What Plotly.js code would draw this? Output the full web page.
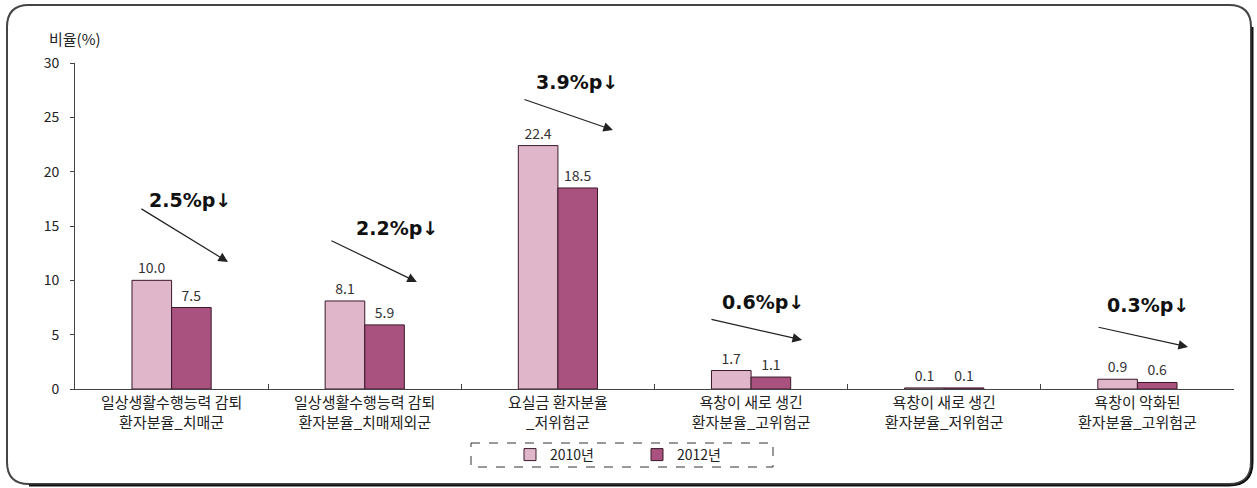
<!DOCTYPE html>
<html><head><meta charset="utf-8">
<script src="https://cdn.plot.ly/plotly-3.0.1.min.js"></script>
<style>html,body{margin:0;padding:0;background:#fff}#c{width:1257px;height:488px}</style>
</head><body><div id="c"></div>
<script>
const categories = [
  '일상생활수행능력 감퇴<br>환자분율_치매군',
  '일상생활수행능력 감퇴<br>환자분율_치매제외군',
  '요실금 환자분율<br>_저위험군',
  '욕창이 새로 생긴<br>환자분율_고위험군',
  '욕창이 새로 생긴<br>환자분율_저위험군',
  '욕창이 악화된<br>환자분율_고위험군'
];
const values2010 = [10.0, 8.1, 22.4, 1.7, 0.1, 0.9];
const values2012 = [7.5, 5.9, 18.5, 1.1, 0.1, 0.6];
const seriesNames = ['2010년', '2012년'];
const changeLabels = ['2.5%p↓', '2.2%p↓', '3.9%p↓', '0.6%p↓', null, '0.3%p↓'];

const W = 1257, H = 488;
const L = 75, R = 23, T = 63, B = 99;
const pw = W - L - R, ph = H - T - B;
const px = x => (x - L) / pw;
const py = y => (H - B - y) / ph;

const font = '"Noto Sans CJK KR", "Noto Sans", sans-serif';

const traces = [
  {type:'bar', name: seriesNames[0], x: categories, y: values2010,
   marker:{color:'#E0B6CA', line:{color:'#3a1a2a', width:1}},
   texttemplate:'%{y:.1f}', textposition:'outside', cliponaxis:false,
   textfont:{size:14, color:'#333', family:font}},
  {type:'bar', name: seriesNames[1], x: categories, y: values2012,
   marker:{color:'#A9527F', line:{color:'#3a1a2a', width:1}},
   texttemplate:'%{y:.1f}', textposition:'outside', cliponaxis:false,
   textfont:{size:14, color:'#333', family:font}}
];

// arrow geometry (category index, value) : tail, head, text position
const arrows = [
  {t:[-0.164,16.66], h:[0.292,11.69], s:[0.095,17.39]},
  {t:[0.820,13.71], h:[1.270,9.85], s:[1.167,14.82]},
  {t:[1.819,26.69], h:[2.285,23.83], s:[2.099,28.25]},
  {t:[2.787,6.44], h:[3.264,4.51], s:[3.062,8.01]},
  null,
  {t:[4.791,5.71], h:[5.262,3.87], s:[5.055,7.73]}
];
const annotations = [
  {xref:'paper', yref:'paper', x:px(75), y:py(38), text:'비율(%)', showarrow:false,
   font:{size:15, color:'#222', family:font}, xanchor:'center', yanchor:'middle'}
];
arrows.forEach((a, i) => {
  if (!a) return;
  annotations.push({xref:'x', yref:'y', axref:'x', ayref:'y', x:a.h[0], y:a.h[1], ax:a.t[0], ay:a.t[1],
    text:'', showarrow:true, arrowhead:2, arrowsize:1.6, arrowwidth:1.2, arrowcolor:'#222', standoff:0});
  annotations.push({xref:'x', yref:'y', x:a.s[0], y:a.s[1], text:'<b>' + changeLabels[i] + '</b>',
    showarrow:false, font:{size:19, color:'#111', family:'"DejaVu Sans", sans-serif'}});
});

// rounded frame
const x0 = 7, x1 = 1251, y0 = 5, y1 = 484, r = 22;
const framePath = `M ${px(x0+r)} ${py(y0)} L ${px(x1-r)} ${py(y0)} Q ${px(x1)} ${py(y0)} ${px(x1)} ${py(y0+r)} ` +
  `L ${px(x1)} ${py(y1-r)} Q ${px(x1)} ${py(y1)} ${px(x1-r)} ${py(y1)} L ${px(x0+r)} ${py(y1)} ` +
  `Q ${px(x0)} ${py(y1)} ${px(x0)} ${py(y1-r)} L ${px(x0)} ${py(y0+r)} Q ${px(x0)} ${py(y0)} ${px(x0+r)} ${py(y0)} Z`;
const shadowPath = `M ${px(x1+1.5)} ${py(y0+r)} L ${px(x1+1.5)} ${py(y1-r)} Q ${px(x1+1.5)} ${py(y1+1.5)} ${px(x1-r)} ${py(y1+1.5)} L ${px(x0+r)} ${py(y1+1.5)}`;

const shapes = [
  {type:'path', xref:'paper', yref:'paper', path:framePath, line:{color:'#444', width:2}},
  {type:'path', xref:'paper', yref:'paper', path:shadowPath, line:{color:'#111', width:2}},
  {type:'rect', xref:'paper', yref:'paper', x0:px(471), x1:px(773), y0:py(443), y1:py(467),
   line:{color:'#333', width:1, dash:'dash'}}
];

const layout = {
  width:W, height:H, margin:{l:L, r:R, t:T, b:B},
  paper_bgcolor:'#fff', plot_bgcolor:'#fff',
  barmode:'group', bargap:0.59, bargroupgap:0,
  font:{family:font, color:'#222'},
  xaxis:{type:'category', showline:true, linecolor:'#444', linewidth:1, showgrid:false,
    ticks:'inside', tickson:'boundaries', ticklen:5, tickcolor:'#444',
    tickfont:{size:15, color:'#222', family:font}},
  yaxis:{range:[0,30], dtick:5, showline:true, linecolor:'#444', linewidth:1, showgrid:false,
    zeroline:false, ticks:'outside', ticklen:4, tickcolor:'#444', ticklabelstandoff:8,
    tickfont:{size:14, color:'#222', family:font}},
  legend:{orientation:'h', x:px(510), xanchor:'left', y:py(455), yanchor:'middle',
    font:{size:14, color:'#222', family:font}, entrywidth:82, itemwidth:30,
    bgcolor:'rgba(0,0,0,0)'},
  annotations: annotations, shapes: shapes, showlegend:true
};
Plotly.newPlot('c', traces, layout, {displayModeBar:false, staticPlot:true});
</script></body></html>
